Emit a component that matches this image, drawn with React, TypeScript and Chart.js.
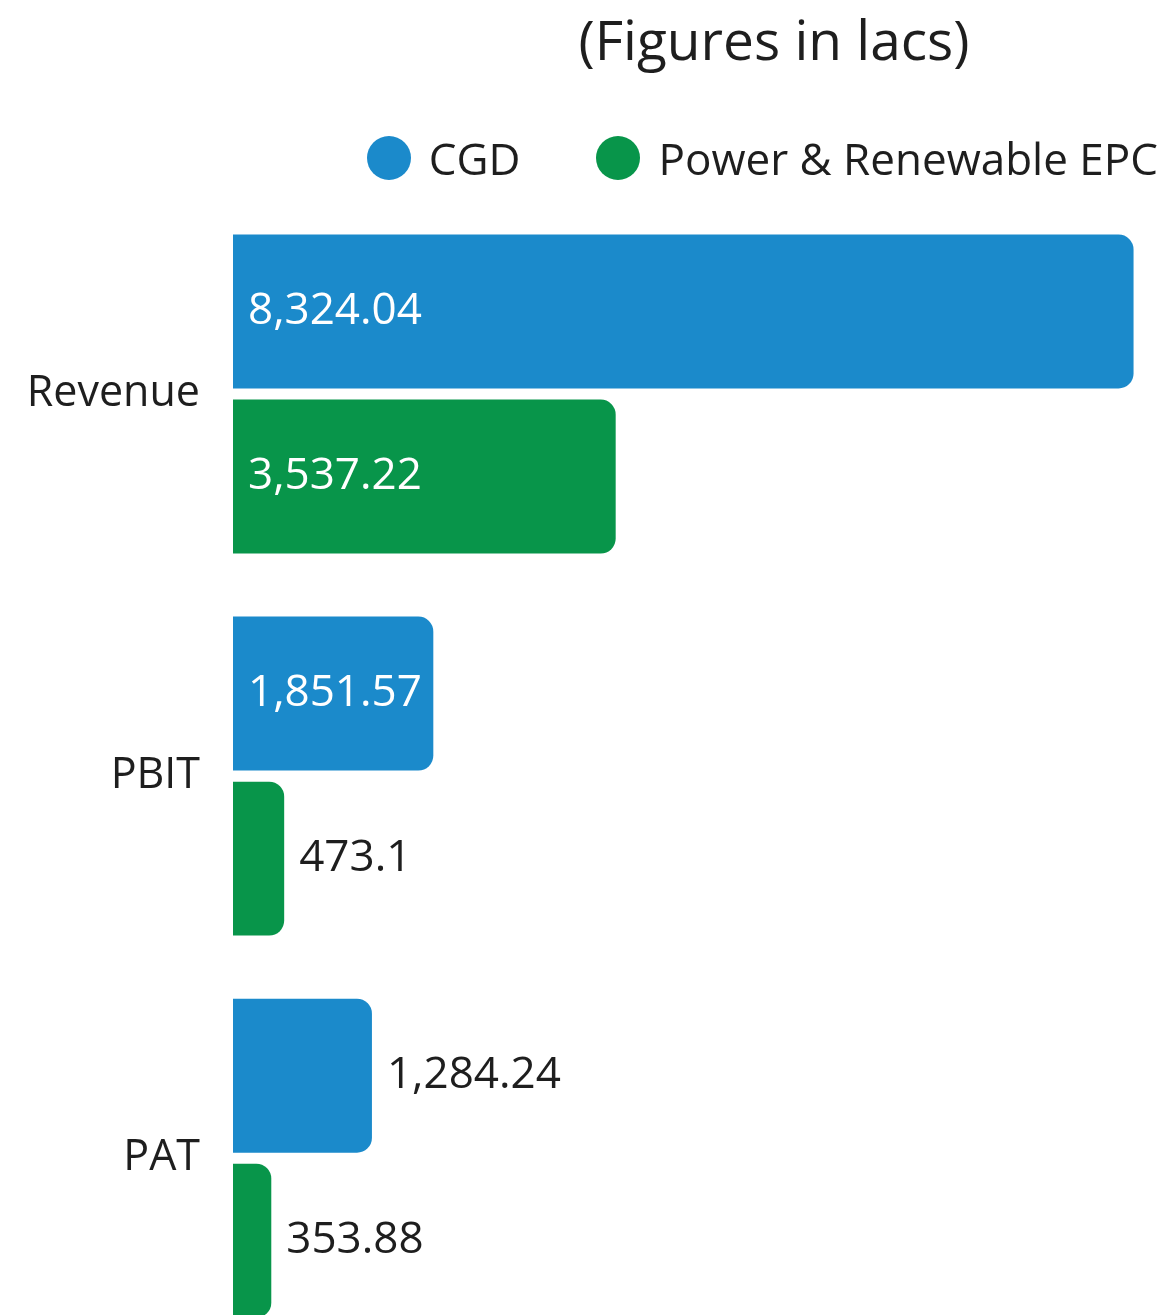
import React, { useEffect, useRef } from "react";
import { Chart, registerables } from "chart.js";

Chart.register(...registerables);

const titleText = "(Figures in lacs)";
const categories = ["Revenue", "PBIT", "PAT"];
const seriesNames = ["CGD", "Power & Renewable EPC"];
const cgdValues = [8324.04, 1851.57, 1284.24];
const epcValues = [3537.22, 473.1, 353.88];
const seriesColors = ["#1B8ACB", "#08954A"];
const xAxisMin = 0;
const xAxisMax = 8550;

const FONT = "'Open Sans', 'Noto Sans', sans-serif";
const TEXT_COLOR = "#1e1e1e";

const valueLabelPlugin = {
  id: "valueLabels",
  afterDatasetsDraw(chart: any) {
    const ctx = chart.ctx;
    ctx.save();
    ctx.font = `44px ${FONT}`;
    ctx.textBaseline = "middle";
    ctx.textAlign = "left";
    chart.data.datasets.forEach((ds: any, di: number) => {
      const meta = chart.getDatasetMeta(di);
      meta.data.forEach((bar: any, i: number) => {
        const v = ds.data[i] as number;
        const txt = v.toLocaleString("en-US", { maximumFractionDigits: 2 });
        const tw = ctx.measureText(txt).width;
        const barW = bar.x - bar.base;
        if (tw + 22 <= barW) {
          ctx.fillStyle = "#ffffff";
          ctx.fillText(txt, bar.base + 15, bar.y);
        } else {
          ctx.fillStyle = TEXT_COLOR;
          ctx.fillText(txt, bar.x + 15, bar.y);
        }
      });
    });
    ctx.restore();
  },
};

export default function App() {
  const canvasRef = useRef<HTMLCanvasElement | null>(null);

  useEffect(() => {
    if (!canvasRef.current) return;
    const chart = new Chart(canvasRef.current, {
      type: "bar",
      data: {
        labels: categories,
        datasets: [
          {
            label: seriesNames[0],
            data: cgdValues,
            backgroundColor: seriesColors[0],
            borderRadius: 15,
            borderSkipped: "start",
            categoryPercentage: 0.864,
            barPercentage: 0.933,
          },
          {
            label: seriesNames[1],
            data: epcValues,
            backgroundColor: seriesColors[1],
            borderRadius: 15,
            borderSkipped: "start",
            categoryPercentage: 0.864,
            barPercentage: 0.933,
          },
        ],
      },
      options: {
        indexAxis: "y",
        responsive: false,
        maintainAspectRatio: false,
        animation: false,
        devicePixelRatio: 1,
        layout: { padding: { top: 203, bottom: 0, left: 0, right: 10 } },
        plugins: {
          legend: { display: false },
          title: { display: false },
          tooltip: { enabled: false },
        },
        scales: {
          x: {
            display: false,
            min: xAxisMin,
            max: xAxisMax,
          },
          y: {
            grid: { display: false, drawTicks: false, tickLength: 0 },
            border: { display: false },
            ticks: {
              padding: 33,
              color: TEXT_COLOR,
              font: { family: FONT, size: 43 },
            },
            afterFit(scale: any) {
              scale.width = 233;
            },
          },
        },
      },
      plugins: [valueLabelPlugin],
    } as any);
    return () => chart.destroy();
  }, []);

  return (
    <div
      style={{
        position: "fixed",
        left: 0,
        top: 0,
        width: 1168,
        height: 1315,
        overflow: "hidden",
        background: "#ffffff",
        fontFamily: FONT,
        color: TEXT_COLOR,
      }}
    >
      <canvas
        ref={canvasRef}
        width={1168}
        height={1408}
        style={{ position: "absolute", left: 0, top: 0, width: 1168, height: 1408 }}
      />
      <div
        style={{
          position: "absolute",
          left: 374,
          width: 800,
          top: 6,
          textAlign: "center",
          fontSize: 55,
          lineHeight: "66px",
          whiteSpace: "nowrap",
        }}
      >
        {titleText}
      </div>
      <div
        style={{
          position: "absolute",
          right: 10,
          top: 128,
          height: 60,
          display: "flex",
          alignItems: "center",
          fontSize: 44,
          whiteSpace: "nowrap",
        }}
      >
        {seriesNames.map((name, i) => (
          <div
            key={name}
            style={{ display: "flex", alignItems: "center", marginLeft: i === 0 ? 0 : 76 }}
          >
            <span
              style={{
                display: "inline-block",
                width: 44,
                height: 44,
                borderRadius: "50%",
                background: seriesColors[i],
                marginRight: 18,
              }}
            />
            <span style={{ lineHeight: "60px" }}>{name}</span>
          </div>
        ))}
      </div>
    </div>
  );
}
